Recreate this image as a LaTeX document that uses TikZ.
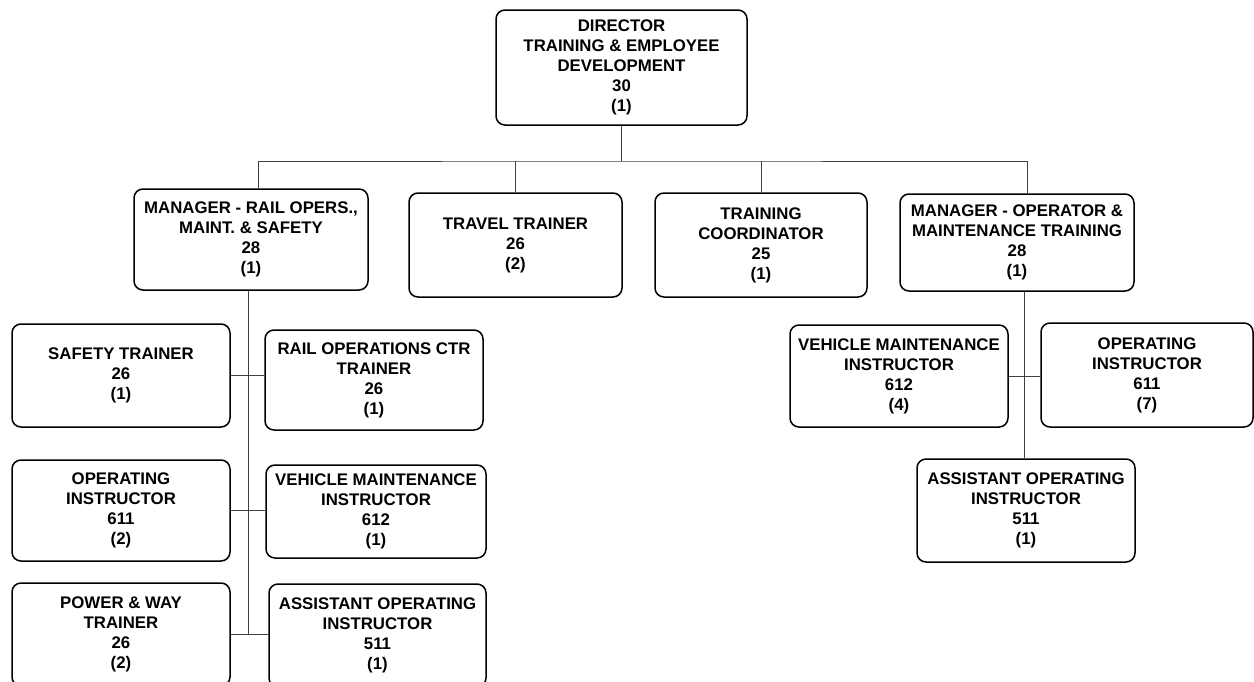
\documentclass[tikz,border=0pt]{standalone}
\usepackage{fontspec}
\setmainfont{Liberation Sans}
\begin{document}
\begin{tikzpicture}[x=1pt, y=-1pt,
    box/.style={draw, line width=1.5pt, rounded corners=9pt, align=center, inner sep=0pt,
      font=\bfseries\fontsize{16.8}{20}\selectfont},
    wire/.style={draw=black!75, line width=1pt}]
    \clip (0, 0) rectangle (1254, 681);
    \node[box, minimum width=251pt, minimum height=115pt] (a) at (621.5, 67.5) {DIRECTOR\\TRAINING \& EMPLOYEE\\DEVELOPMENT\\30\\(1)};
    \node[box, minimum width=234pt, minimum height=101pt] (b) at (251, 239.5) {MANAGER - RAIL OPERS.,\\MAINT. \& SAFETY\\28\\(1)};
    \node[box, minimum width=213pt, minimum height=104pt] (c) at (515.5, 245) {TRAVEL TRAINER\\26\\(2)};
    \node[box, minimum width=212pt, minimum height=104pt] (d) at (761, 245) {TRAINING\\COORDINATOR\\25\\(1)};
    \node[box, minimum width=234pt, minimum height=97pt] (e) at (1017, 242.5) {MANAGER - OPERATOR \&\\MAINTENANCE TRAINING\\28\\(1)};
    \node[box, minimum width=218pt, minimum height=103pt] (f) at (121, 375.5) {SAFETY TRAINER\\26\\(1)};
    \node[box, minimum width=218pt, minimum height=100pt] (g) at (374, 380) {RAIL OPERATIONS CTR\\TRAINER\\26\\(1)};
    \node[box, minimum width=218pt, minimum height=101pt] (h) at (121, 510.5) {OPERATING\\INSTRUCTOR\\611\\(2)};
    \node[box, minimum width=220pt, minimum height=93pt] (i) at (376, 511.5) {VEHICLE MAINTENANCE\\INSTRUCTOR\\612\\(1)};
    \node[box, minimum width=218pt, minimum height=103pt] (j) at (121, 634.5) {POWER \& WAY\\TRAINER\\26\\(2)};
    \node[box, minimum width=217pt, minimum height=103pt] (k) at (377.5, 635.5) {ASSISTANT OPERATING\\INSTRUCTOR\\511\\(1)};
    \node[box, minimum width=218pt, minimum height=102pt] (l) at (899, 376) {VEHICLE MAINTENANCE\\INSTRUCTOR\\612\\(4)};
    \node[box, minimum width=212pt, minimum height=104pt] (m) at (1147, 375) {OPERATING\\INSTRUCTOR\\611\\(7)};
    \node[box, minimum width=218pt, minimum height=103pt] (n) at (1026, 510.5) {ASSISTANT OPERATING\\INSTRUCTOR\\511\\(1)};
    \coordinate (hub) at (621.5, 161);
    \coordinate (low) at (248, 634);
    \draw [wire] (a) -- (hub);
    \draw [wire] ([xshift=7pt]b.north) |- (hub) -| ([xshift=10pt]e.north);
    \draw [wire] (hub -| c.north) -- (c.north);
    \draw [wire] (hub -| d.north) -- (d.north);
    \draw [wire] ([xshift=-3pt]b.south) -- (low);
    \draw [wire] (f.east) -- (f.east -| g.west);
    \draw [wire] (h.east) -- (h.east -| i.west);
    \draw [wire] (j.east) -- (j.east -| k.west);
    \draw [wire] ([xshift=7pt]e.south) -- ([xshift=7pt]e.south |- n.north);
    \draw [wire] (l.east) -- (l.east -| m.west);
  \end{tikzpicture}
\end{document}
